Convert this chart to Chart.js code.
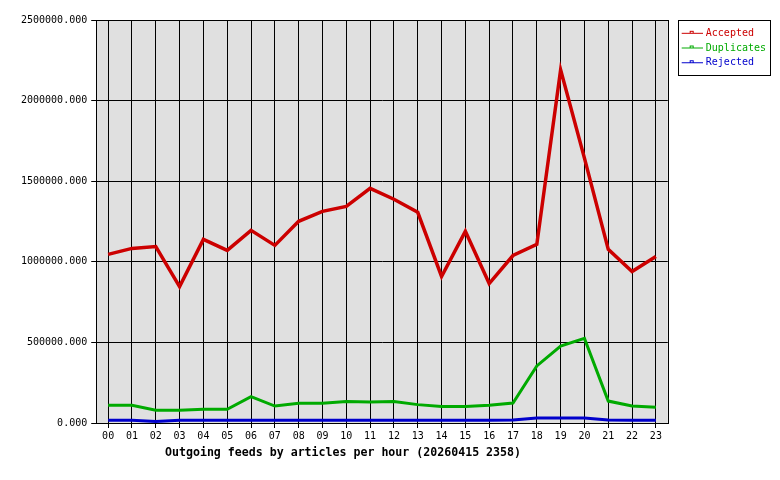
<!DOCTYPE html>
<html>
<head>
<meta charset="utf-8">
<script src="https://cdn.jsdelivr.net/npm/chart.js@4"></script>
<style>
  body { margin: 0; background: #fff; }
  canvas { display: block; }
</style>
</head>
<body>
<canvas id="feedChart" width="780" height="480"></canvas>
<script>
// hours on the x axis
const hours = ["00", "01", "02", "03", "04", "05", "06", "07", "08", "09", "10", "11",
  "12", "13", "14", "15", "16", "17", "18", "19", "20", "21", "22", "23"];

// articles per hour
const accepted = [1046000, 1083000, 1095000, 846000, 1139000, 1071000, 1195000, 1102000,
  1251000, 1313000, 1344000, 1456000, 1388000, 1307000, 909000, 1189000,
  865000, 1039000, 1108000, 2191000, 1643000, 1077000, 940000, 1033000];
const duplicates = [110000, 110000, 79000, 79000, 85000, 85000, 163000, 105000,
  122000, 122000, 134000, 130000, 134000, 114000, 103000, 103000,
  110000, 124000, 354000, 477000, 525000, 136000, 105000, 97000];
const rejected = [17000, 17000, 10000, 17000, 17000, 17000, 17000, 17000,
  17000, 17000, 17000, 17000, 17000, 17000, 17000, 17000,
  17000, 19000, 31000, 31000, 31000, 18000, 17000, 17000];

const seriesNames = ["Accepted", "Duplicates", "Rejected"];
const seriesColors = ["#cc0000", "#00aa00", "#0000cc"];
const yTicks = [0, 500000, 1000000, 1500000, 2000000, 2500000];
const caption = "Outgoing feeds by articles per hour (20260415 2358)";

const monoFont = "'DejaVu Sans Mono', 'Liberation Mono', monospace";

// little line + square marker for the legend
function legendMark(color) {
  const c = document.createElement("canvas");
  c.width = 32;
  c.height = 7;
  const g = c.getContext("2d");
  g.fillStyle = color;
  g.fillRect(11, 3, 21, 1);
  g.strokeStyle = color;
  g.lineWidth = 1;
  g.fillStyle = "#ffffff";
  g.fillRect(19, 1, 4, 3);
  g.strokeRect(19.5, 1.5, 3, 2);
  return c;
}
const legendMarks = seriesColors.map(legendMark);

// grey plot area with a black frame
const plotFrame = {
  id: "plotFrame",
  beforeDraw(chart) {
    const { ctx, chartArea: a } = chart;
    ctx.save();
    ctx.fillStyle = "#e0e0e0";
    ctx.fillRect(a.left, a.top, a.right - a.left, a.bottom - a.top);
    ctx.restore();
  },
  beforeDatasetsDraw(chart) {
    const { ctx, chartArea: a } = chart;
    ctx.save();
    ctx.strokeStyle = "#000";
    ctx.lineWidth = 1;
    ctx.strokeRect(Math.round(a.left) + 0.5, Math.round(a.top) + 0.5,
      Math.round(a.right) - Math.round(a.left), Math.round(a.bottom) - Math.round(a.top));
    ctx.restore();
  },
  afterDraw(chart) {
    // legend box border + caption under the axis
    const { ctx, legend } = chart;
    ctx.save();
    ctx.strokeStyle = "#000";
    ctx.lineWidth = 1;
    ctx.strokeRect(Math.round(legend.left) + 10.5, Math.round(legend.top) + 0.5, 92, 55);
    ctx.fillStyle = "#000";
    ctx.font = "bold 11.6px " + monoFont;
    ctx.textAlign = "center";
    ctx.textBaseline = "alphabetic";
    ctx.fillText(caption, 343, chart.scales.x.bottom + 12);
    ctx.restore();
  },
};

const datasets = [accepted, duplicates, rejected].map((data, i) => ({
  label: seriesNames[i],
  data: data,
  borderColor: seriesColors[i],
  backgroundColor: seriesColors[i],
  borderWidth: i === 0 ? 3.5 : 3,
  pointRadius: 0,
  tension: 0,
  fill: false,
}));

const ctx = document.getElementById("feedChart").getContext("2d");
const feedChart = new Chart(ctx, {
  type: "line",
  data: { labels: hours, datasets: datasets },
  plugins: [plotFrame],
  options: {
    responsive: false,
    animation: false,
    layout: { padding: { left: 17, right: 4, top: 20, bottom: 36 } },
    scales: {
      x: {
        offset: true,
        grid: { offset: false, color: "#000", lineWidth: 1, tickLength: 5 },
        border: { color: "#000", width: 1 },
        ticks: {
          color: "#000",
          padding: 2,
          maxRotation: 0,
          autoSkip: false,
          font: { family: monoFont, size: 10 },
        },
      },
      y: {
        min: 0,
        max: 2500000,
        afterBuildTicks: (axis) => {
          axis.ticks = yTicks.map((v) => ({ value: v }));
        },
        grid: { color: "#000", lineWidth: 1, tickLength: 5 },
        border: { color: "#000", width: 1 },
        ticks: {
          color: "#000",
          padding: 4,
          font: { family: monoFont, size: 10 },
          callback: function (value) {
            return value.toFixed(3);
          },
        },
      },
    },
    plugins: {
      legend: {
        position: "right",
        align: "start",
        title: { display: true, text: "", padding: 0, font: { size: 2, lineHeight: 1.8 } },
        labels: {
          usePointStyle: true,
          pointStyleWidth: 28.3,
          padding: 4.7,
          font: { family: monoFont, size: 10 },
          generateLabels: function (chart) {
            const items = Chart.defaults.plugins.legend.labels.generateLabels(chart);
            items.forEach((item, i) => {
              item.fontColor = seriesColors[i];
              item.pointStyle = legendMarks[i];
            });
            return items;
          },
        },
      },
      title: { display: false },
      tooltip: { enabled: false },
    },
  },
});
</script>
</body>
</html>
